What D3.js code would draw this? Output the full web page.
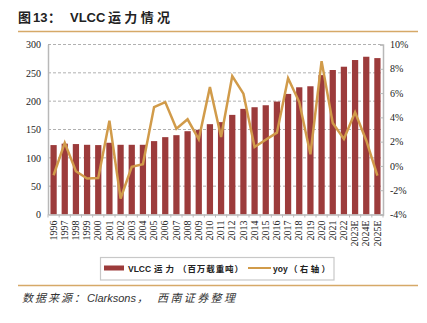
<!DOCTYPE html>
<html><head><meta charset="utf-8">
<script src="https://cdn.jsdelivr.net/npm/d3@7"></script>
<style>body{margin:0;background:#fff}svg{display:block}</style>
</head><body>
<svg id="c" width="427" height="323"></svg>
<script>
const years = ["1996","1997","1998","1999","2000","2001","2002","2003","2004","2005","2006","2007","2008","2009","2010","2011","2012","2013","2014","2015","2016","2017","2018","2019","2020","2021","2022","2023E","2024E","2025E"];
const capacity = [122.5,125,124.3,123,122.5,126.6,123,123,123,129.5,136.5,140,147,149.5,159.4,163,175.8,186.4,189.3,192.8,199.3,212.8,224.5,226.3,246,255,260.8,272.6,278.4,276];
const yoy = [-0.77,1.9,-0.44,-1.04,-0.99,3.73,-2.68,-0.08,0.14,4.85,5.26,3.07,3.84,2.19,6.49,2.38,7.4,5.95,1.56,2.16,2.74,7.23,5.26,0.96,8.63,3.53,2.22,4.41,2.1,-0.8];
const leftTicks = [0,50,100,150,200,250,300];
const rightTicks = [-4,-2,0,2,4,6,8,10];

const svg = d3.select("#c");
const L = 48, R = 383, T = 44.5, B = 214.5;
const cjk = "'Noto Sans CJK SC', sans-serif";
const serif = "'Liberation Serif', 'Times New Roman', serif";
const sans = "'Liberation Sans', Arial, sans-serif";
const barColor = "#9c3b3b", lineColor = "#d19b4a", tan = "#d6a968";

function pieces(sel, y, size, weight, style, parts) {
  const t = sel.append("text").attr("y",y).attr("font-size",size).attr("font-weight",weight)
    .attr("font-style",style).attr("fill","#222");
  parts.forEach(p => {
    const s = t.append("tspan").attr("x",p.x).attr("font-family",p.f).text(p.t);
    if (p.w) s.attr("textLength",p.w).attr("lengthAdjust","spacing");
  });
  return t;
}

// title
pieces(svg, 22, 13, "bold", "normal", [
  {x:18, f:cjk, t:"图"},
  {x:33, f:sans, t:"13"},
  {x:48, f:cjk, t:"："},
  {x:70, f:sans, t:"VLCC"},
  {x:108, f:cjk, t:"运力情况", w:62}
]);
svg.append("line").attr("x1",18).attr("x2",418).attr("y1",31.5).attr("y2",31.5).attr("stroke",tan).attr("stroke-width",1.5);

const x = d3.scaleBand().domain(years).range([L,R]).paddingInner(0.44).paddingOuter(0.22);
const y = d3.scaleLinear().domain([0,300]).range([B,T]);
const y2 = d3.scaleLinear().domain([-4,10]).range([B,T]);

// gridlines
svg.append("g").selectAll("line").data(leftTicks.slice(1)).join("line")
  .attr("x1",L).attr("x2",R).attr("y1",d=>y(d)).attr("y2",d=>y(d))
  .attr("stroke","#b0b0b0").attr("stroke-width",1).attr("stroke-dasharray","3,2");

// bars
svg.append("g").selectAll("rect").data(years).join("rect")
  .attr("x",d=>x(d)).attr("width",x.bandwidth())
  .attr("y",(d,i)=>y(capacity[i])).attr("height",(d,i)=>B-y(capacity[i]))
  .attr("fill",barColor);

// line
const line = d3.line().x((d,i)=>x(years[i])+x.bandwidth()/2).y(d=>y2(d));
svg.append("path").datum(yoy).attr("d",line).attr("fill","none")
  .attr("stroke",lineColor).attr("stroke-width",2.5).attr("stroke-linejoin","miter");

// axes
const gl = svg.append("g").attr("transform",`translate(${L},0)`)
  .call(d3.axisLeft(y).tickValues(leftTicks).tickSize(0).tickPadding(7));
gl.select(".domain").attr("stroke","#b8b8b8").attr("stroke-width",1.5);
gl.selectAll("text").attr("font-family",serif).attr("font-size",10).attr("fill","#222");

const gr = svg.append("g").attr("transform",`translate(${R},0)`)
  .call(d3.axisRight(y2).tickValues(rightTicks).tickSize(-3).tickPadding(7).tickFormat(d=>d+"%"));
gr.select(".domain").attr("stroke","#b8b8b8").attr("stroke-width",1.5);
gr.selectAll(".tick line").attr("stroke","#b8b8b8");
gr.selectAll("text").attr("font-family",serif).attr("font-size",10).attr("fill","#222");

const gb = svg.append("g").attr("transform",`translate(0,${B})`)
  .call(d3.axisBottom(x).tickSize(0).tickPadding(6));
gb.select(".domain").attr("stroke","#b8b8b8").attr("stroke-width",1.5);
gb.selectAll("text").attr("font-family",serif).attr("font-size",10).attr("fill","#222")
  .attr("transform","rotate(-90)").attr("text-anchor","end").attr("dx","-6").attr("y",0).attr("x",0)
  .attr("dy","0.32em");
svg.append("g").selectAll("line").data(d3.range(years.length+1)).join("line")
  .attr("x1",i=>L+i*x.step()).attr("x2",i=>L+i*x.step()).attr("y1",B).attr("y2",B+3)
  .attr("stroke","#b8b8b8");

// legend
const lg = svg.append("g");
lg.append("rect").attr("x",100.5).attr("y",257.5).attr("width",233.5).attr("height",22.5)
  .attr("fill","#fff").attr("stroke","#c8c8c8").attr("stroke-width",1.2);
lg.append("rect").attr("x",104).attr("y",265.5).attr("width",20).attr("height",5).attr("fill",barColor);
pieces(lg, 271.5, 8.5, "bold", "normal", [
  {x:128, f:sans, t:"VLCC"},
  {x:154, f:cjk, t:"运力", w:20},
  {x:178, f:cjk, t:"（百万载重吨）", w:65}
]);
lg.append("line").attr("x1",248).attr("x2",271).attr("y1",268).attr("y2",268).attr("stroke",lineColor).attr("stroke-width",2);
pieces(lg, 271.5, 8.5, "bold", "normal", [
  {x:273, f:sans, t:"yoy"},
  {x:289, f:cjk, t:"（右轴）", w:41}
]);

// source
svg.append("line").attr("x1",18).attr("x2",418).attr("y1",285.5).attr("y2",285.5).attr("stroke",tan).attr("stroke-width",1.5);
pieces(svg, 301.5, 11, "normal", "italic", [
  {x:22, f:cjk, t:"数据来源：", w:63},
  {x:87, f:sans, t:"Clarksons"},
  {x:137, f:cjk, t:"，"},
  {x:157, f:cjk, t:"西南证券整理", w:78}
]).attr("fill","#333");
</script>
</body></html>
